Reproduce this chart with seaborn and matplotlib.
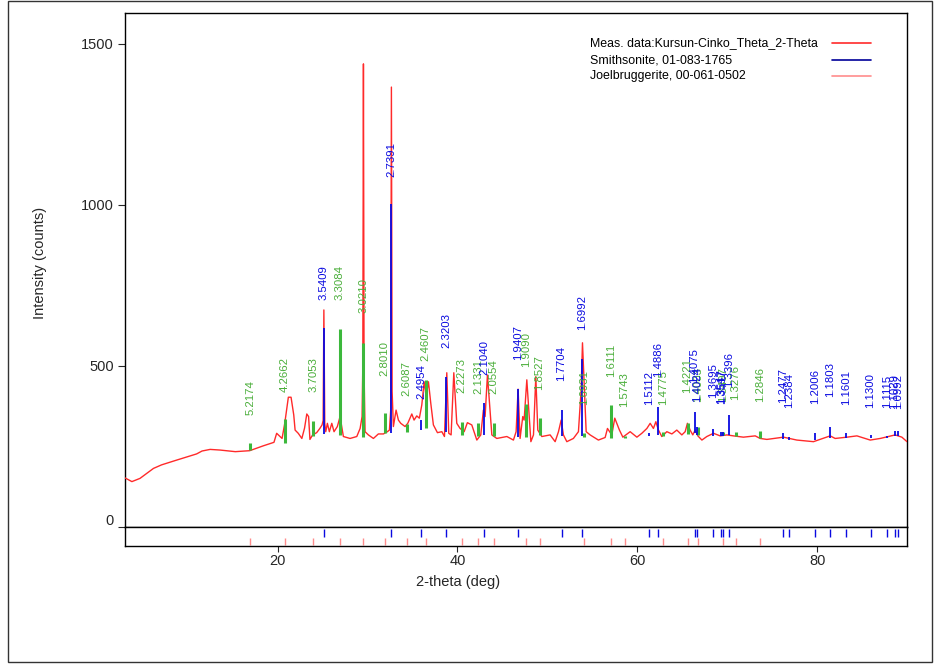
import numpy as np
import pandas as pd
import matplotlib
matplotlib.use("Agg")
import matplotlib.pyplot as plt
import matplotlib.transforms as mtransforms
from matplotlib.patches import Rectangle
import seaborn as sns

# ---------------- data ----------------
meas_2theta = [3.0, 3.8, 4.7, 6.2, 7.1, 8.8, 11.0, 11.6, 12.5, 13.6, 15.3, 16.9, 18.4, 19.6, 19.9,
               20.2, 20.5, 20.8, 21.2, 21.5, 21.8, 21.95, 22.3, 22.7, 23.0, 23.25, 23.45, 23.6, 23.9,
               24.35, 24.7, 24.95, 25.07, 25.15, 25.25, 25.36, 25.54, 25.76, 26.03, 26.28, 26.65,
               26.95, 27.14, 27.32, 28.06, 28.81, 29.18, 29.40, 29.48, 29.55, 29.62, 29.73, 30.1,
               30.66, 31.21, 31.77, 32.21, 32.44, 32.58, 32.66, 32.74, 32.88, 33.18, 33.44, 33.7,
               34.18, 34.48, 34.93, 35.18, 35.48, 35.77, 36.04, 36.30, 36.52, 36.78, 37.04, 37.33,
               37.78, 38.27, 38.56, 38.82, 39.04, 39.3, 39.6, 39.93, 40.3, 40.75, 41.11, 41.6, 42.16,
               42.6, 42.89, 43.08, 43.34, 43.56, 43.83, 44.38, 45.5, 46.23, 46.53, 46.75, 46.97,
               47.27, 47.42, 47.72, 47.98, 48.17, 48.46, 48.72, 48.94, 49.39, 50.31, 50.87, 51.24,
               51.54, 51.79, 52.17, 52.9, 53.46, 53.76, 53.91, 54.13, 54.32, 54.76, 55.68, 56.43,
               56.69, 57.17, 57.5, 58.02, 58.4, 59.21, 59.96, 60.51, 61.07, 61.44, 61.8, 62.07,
               62.36, 62.73, 63.29, 63.85, 64.4, 64.96, 65.33, 65.58, 65.88, 66.18, 66.44, 66.74,
               67.19, 67.74, 68.48, 69.22, 69.97, 70.7, 71.81, 73.12, 73.67, 74.42, 76.26, 77.75,
               79.6, 81.46, 82.01, 83.32, 84.43, 85.91, 87.02, 88.69, 89.43, 90.0]
meas_counts = [152, 140, 150, 181, 192, 207, 226, 235, 240, 238, 233, 236, 251, 262, 290,
               282, 274, 321, 402, 402, 347, 300, 290, 274, 306, 350, 342, 271, 285,
               292, 305, 316, 330, 673, 320, 295, 321, 295, 321, 295, 311,
               342, 311, 280, 274, 280, 305, 342, 500, 1437, 480, 295, 285,
               274, 288, 288, 295, 300, 360, 1365, 420, 311, 362, 331, 321,
               311, 321, 350, 331, 344, 337, 378, 450, 404, 450, 383, 316,
               292, 295, 280, 478, 290, 285, 478, 321, 305, 295, 323, 316, 269,
               285, 362, 342, 471, 388, 285, 274, 280, 269, 295, 427, 274,
               342, 331, 456, 342, 264, 285, 466, 300, 280, 285, 264, 295,
               331, 285, 264, 274, 295, 425, 571, 425, 295, 285, 269, 277,
               305, 285, 337, 300, 278, 295, 278, 290, 305, 321, 305, 326,
               300, 280, 295, 288, 300, 285, 295, 321, 300, 285, 300, 282,
               269, 280, 290, 282, 285, 282, 278, 282, 274, 271, 278, 269,
               264, 282, 274, 278, 282, 269, 274, 285, 278, 264]

# Joelbruggerite reference (green sticks / pink markers)
joel_2theta = [16.98, 20.80, 23.99, 26.93, 29.55, 31.93, 34.35, 36.49, 40.47, 42.34, 44.02,
               47.60, 49.14, 54.12, 57.13, 58.59, 62.84, 65.59, 66.75, 69.59, 70.93, 73.68]
joel_d = ["5.2174", "4.2662", "3.7053", "3.3084", "3.0210", "2.8010", "2.6087", "2.4607",
          "2.2273", "2.1331", "2.0554", "1.9090", "1.8527", "1.6931", "1.6111", "1.5743",
          "1.4775", "1.4221", "1.4003", "1.3497", "1.3276", "1.2846"]
joel_top = [259, 334, 328, 614, 570, 352, 319, 456, 325, 323, 323,
            381, 337, 290, 378, 282, 295, 321, 310, 295, 295, 298]
joel_base = [238, 261, 283, 284, 278, 290, 295, 307, 285, 283, 282,
             280, 285, 280, 275, 276, 282, 288, 285, 284, 282, 275]

# Smithsonite reference (blue sticks)
smith_2theta = [25.13, 32.67, 35.96, 38.78, 42.95, 46.77, 51.58, 53.91, 61.29, 62.32, 66.37,
                66.63, 68.46, 69.31, 69.49, 70.20, 76.25, 76.93, 79.82, 81.48, 83.21, 85.95,
                87.74, 88.61, 88.99]
smith_d = ["3.5409", "2.7391", "2.4954", "2.3203", "2.1040", "1.9407", "1.7704", "1.6992",
           "1.5112", "1.4886", "1.4075", "1.4024", "1.3695", "1.3547", "1.3517", "1.3396",
           "1.2477", "1.2384", "1.2006", "1.1803", "1.1601", "1.1300", "1.1115", "1.1029",
           "1.0992"]
smith_top = [617, 1002, 330, 466, 383, 427, 362, 520, 292, 373, 357,
             310, 303, 295, 295, 347, 290, 277, 290, 309, 290, 284, 283, 298, 298]
smith_base = [287, 290, 300, 295, 285, 280, 282, 282, 282, 285, 290,
              285, 282, 282, 282, 285, 271, 270, 270, 275, 276, 275, 276, 282, 282]

legend_labels = ["Meas. data:Kursun-Cinko_Theta_2-Theta",
                 "Smithsonite, 01-083-1765",
                 "Joelbruggerite, 00-061-0502"]
y_ticks = [0, 500, 1000, 1500]
x_ticks = [20, 40, 60, 80]

# label layout (bottom of each rotated d-spacing label, in counts)
joel_label_y = [347, 419, 419, 703, 663, 468, 407, 516, 414, 412, 412,
                495, 425, 378, 466, 373, 378, 414, 388, 388, 393, 388]
smith_label_y = [703, 1087, 396, 554, 471, 518, 453, 611, 378, 466, 445,
                 388, 399, 380, 380, 435, 383, 368, 381, 404, 378, 368, 368, 365, 365]

# ---------------- styling ----------------
RED = "#ff2a2a"
BLUE = "#0a0ae0"
GREEN = "#3cb83c"
GREEN_TXT = "#4aae3a"
PINK = "#ff8c8c"
LEG_BLUE = "#00009a"

sns.set_style("ticks")
plt.rcParams['font.family'] = ['Liberation Sans', 'DejaVu Sans']

W, H = 940, 667
fig = plt.figure(figsize=(W / 100, H / 100), dpi=100)
fig.patch.set_facecolor("white")

left_px, right_px = 124.7, 907.0
top_px, mid_px, bot_px = 13.0, 526.7, 546.0
ax = fig.add_axes([left_px / W, 1 - mid_px / H, (right_px - left_px) / W, (mid_px - top_px) / H])
axb = fig.add_axes([left_px / W, 1 - bot_px / H, (right_px - left_px) / W, (bot_px - mid_px) / H],
                   sharex=ax)

df = pd.DataFrame({"two_theta": meas_2theta, "counts": meas_counts})
sns.lineplot(data=df, x="two_theta", y="counts", ax=ax, color=RED, lw=1.0,
             estimator=None, sort=True, zorder=3)

ax.vlines(joel_2theta, joel_base, joel_top, color=GREEN, lw=2.2, zorder=4)
ax.vlines(smith_2theta, smith_base, smith_top, color=BLUE, lw=1.3, zorder=5)

for x, y, t in zip(joel_2theta, joel_label_y, joel_d):
    ax.text(x, y, t, rotation=90, ha="center", va="bottom", color=GREEN_TXT,
            fontsize=8.2, zorder=6)
for x, y, t in zip(smith_2theta, smith_label_y, smith_d):
    ax.text(x, y, t, rotation=90, ha="center", va="bottom", color=BLUE,
            fontsize=8.2, zorder=6)

ax.set_xlim(3, 90)
ax.set_ylim(0, 1595)
ax.set_yticks(y_ticks)
ax.set_yticklabels([str(v) for v in y_ticks])
ax.tick_params(axis="x", bottom=False, labelbottom=False)
ax.tick_params(axis="y", direction="out", length=5, width=0.8, pad=3, labelsize=10.5)
ax.set_xlabel("")
ax.set_ylabel("Intensity (counts)", fontsize=10.5)
ax.yaxis.set_label_coords(-0.099, 0.514)
for s in ax.spines.values():
    s.set_linewidth(1.0)
    s.set_color("black")

# legend drawn in the upper right, text first, line after
rows_y = [0.941, 0.9084, 0.878]
leg_colors = [RED, LEG_BLUE, PINK]
for yy, lab, c in zip(rows_y, legend_labels, leg_colors):
    ax.text(0.5948, yy, lab, transform=ax.transAxes, ha="left", va="center",
            fontsize=8.9, color="black")
    ax.plot([0.9045, 0.9544], [yy, yy], transform=ax.transAxes, color=c, lw=1.2)

# bottom reference-marker strip
axb.vlines(smith_2theta, 0.48, 0.87, color=BLUE, lw=1.0)
axb.vlines(joel_2theta, 0.05, 0.44, color=PINK, lw=1.0)
axb.set_ylim(0, 1)
axb.set_yticks([])
axb.set_xticks(x_ticks)
axb.set_xticklabels([str(v) for v in x_ticks])
axb.tick_params(axis="x", direction="out", length=4, width=0.8, pad=2, labelsize=10.5)
axb.set_xlabel("2-theta (deg)", fontsize=10.5)
axb.xaxis.set_label_coords(0.426, -1.5)
for s in axb.spines.values():
    s.set_linewidth(1.0)
    s.set_color("black")

# raise the "0" label a little, as in the reference
lab0 = ax.get_yticklabels()[0]
lab0.set_transform(lab0.get_transform() +
                   mtransforms.ScaledTranslation(0, 0.07, fig.dpi_scale_trans))

# outer frame
fig.patches.append(Rectangle((8 / W, 1 - 662 / H), (932 - 8) / W, (662 - 1) / H,
                             transform=fig.transFigure, fill=False,
                             edgecolor="#333333", lw=1.0))

fig.savefig("out.png", dpi=100)
